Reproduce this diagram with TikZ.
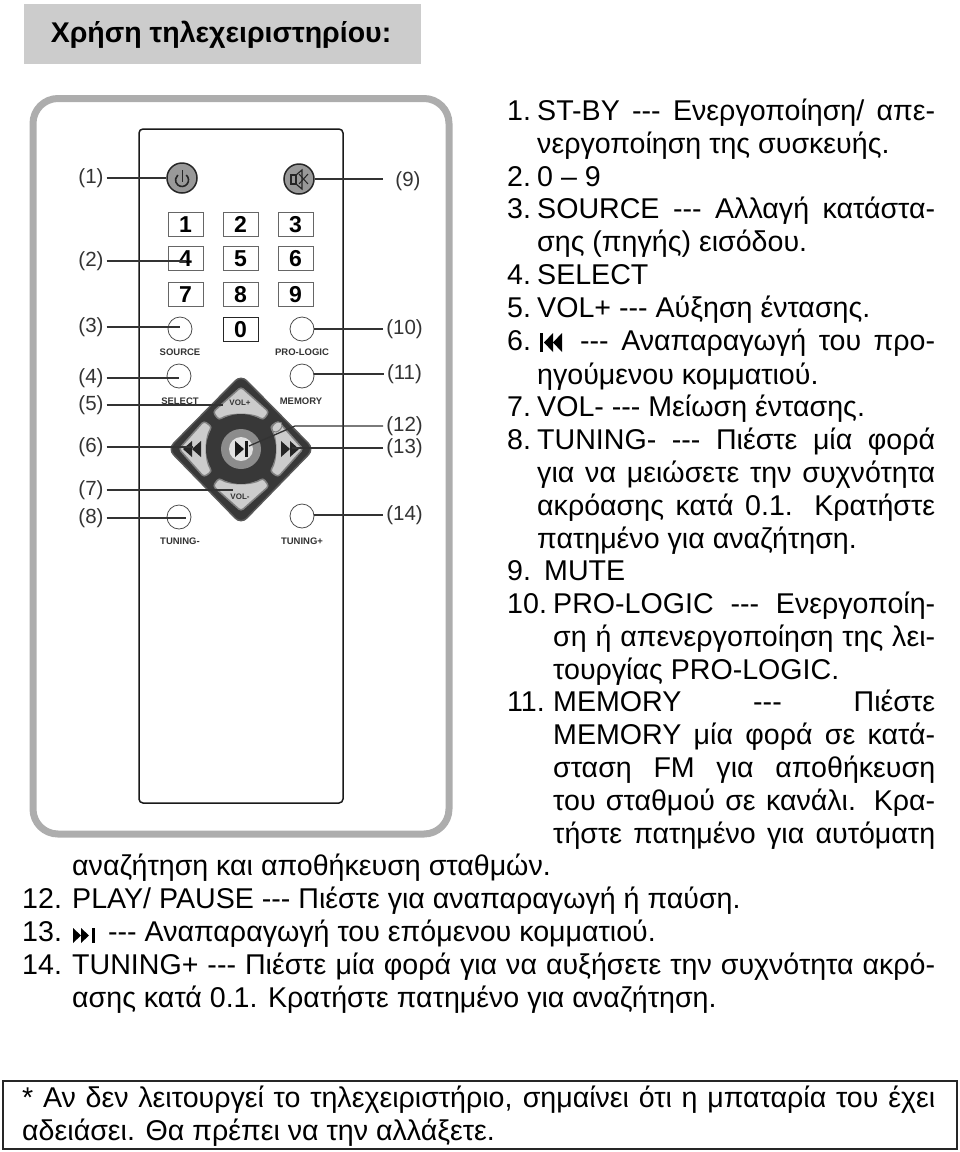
\documentclass[tikz,border=0pt]{standalone}
\usepackage{fontspec}
\usetikzlibrary{calc}
\newfontfamily\bodyfont{Liberation Sans}
\tikzset{
	bodytxt/.style={anchor=base west, inner sep=0pt, font=\bodyfont\fontsize{28.6}{33}\selectfont},
	calllbl/.style={inner sep=3pt, text=black!80, font=\bodyfont\fontsize{20.5}{22}\selectfont},
	callline/.style={line width=1.3pt, color=black!80},
	numkey/.style={draw=black!60, line width=1pt, minimum width=35pt, minimum height=24pt, inner sep=0pt, text height=16.5pt, text depth=0pt, font=\bodyfont\bfseries\fontsize{23}{23}\selectfont},
	roundbtn/.style={circle, draw=black!70, line width=0.8pt, minimum size=24pt, inner sep=0pt},
	topbtn/.style={circle, draw=black!85, fill=black!40, line width=1.5pt, minimum size=30pt, inner sep=0pt},
	btnlbl/.style={inner sep=0pt, text=black!80, font=\bodyfont\bfseries\fontsize{9.5}{10}\selectfont},
	padbtn/.style={draw=black!50, fill=black!20, line width=1.5pt, rounded corners=3pt}
}
\def\fline#1(#2,#3)#4{\node[bodytxt] (#1) at (#2,#3) {#4};}
\def\jline#1(#2,#3)[#4]#5{\node[bodytxt] (#1) at (#2,#3) {\makebox[#4][s]{#5}};}
\def\num#1#2{\makebox[#1][l]{#2}}

\begin{document}
\begin{tikzpicture}[x=1pt, y=-1pt]
	\useasboundingbox (0,0) rectangle (960,1152);
	%%%%% HEADING %%%%%

	\node[fill=black!20, minimum width=397pt, minimum height=60pt, inner sep=0pt] (headbox) at (222.5,34) {};
	\node[inner sep=0pt, font=\bodyfont\bfseries\fontsize{28.5}{30}\selectfont] (headtxt) at (221,35) {Χρήση τηλεχειριστηρίου:};

	%%%%% REMOTE %%%%%

	\draw[line width=7pt, color=black!32, rounded corners=25pt] (33,98.5) rectangle (449,834);
	\draw[line width=1.5pt, color=black!90, rounded corners=4pt] (139,129) rectangle (343,803);

	\node[topbtn] (btnpower) at (182,178) {};
	\node[topbtn] (btnmute) at (299,179) {};
	\draw[line width=1.6pt, color=black!85] (186.2,175) arc[start angle=-50, end angle=230, radius=6.5];
	\draw[line width=1.6pt, color=black!85] (182.5,170) -- (182.5,182);
	\draw[line width=1.2pt, color=black!85] (291,175) rectangle (296,184);
	\draw[line width=1.2pt, color=black!85] (296,175) -- (302,170) -- (302,189) -- (296,184);
	\draw[line width=1pt, color=black!85] (299,174) -- (308,184);
	\draw[line width=1pt, color=black!85] (299,184) -- (308,174);

	\node[numkey] (key1) at (185.5,224) {1};
	\node[numkey] (key2) at (240.5,224) {2};
	\node[numkey] (key3) at (295.5,224) {3};
	\node[numkey] (key4) at (185.5,258.5) {4};
	\node[numkey] (key5) at (240.5,258.5) {5};
	\node[numkey] (key6) at (295.5,258.5) {6};
	\node[numkey] (key7) at (185.5,294) {7};
	\node[numkey] (key8) at (240.5,294) {8};
	\node[numkey] (key9) at (295.5,294) {9};
	\node[numkey, draw=black!85] (key0) at (240.5,329.5) {0};

	\node[roundbtn] (btnsource) at (180,329) {};
	\node[roundbtn] (btnprologic) at (302,329) {};
	\node[roundbtn] (btnselect) at (179,376) {};
	\node[roundbtn] (btnmemory) at (302,376) {};
	\node[roundbtn] (btntuningm) at (179,517) {};
	\node[roundbtn] (btntuningp) at (302,516) {};

	\node[btnlbl] (lblsource) at (180,352) {SOURCE};
	\node[btnlbl] (lblprologic) at (302,352) {PRO-LOGIC};
	\node[btnlbl] (lblselect) at (180,401) {SELECT};
	\node[btnlbl] (lblmemory) at (301,401) {MEMORY};
	\node[btnlbl] (lbltuningm) at (180,541) {TUNING-};
	\node[btnlbl] (lbltuningp) at (302,541) {TUNING+};

	% direction pad
	\draw[fill=black!78, draw=black!65, line width=1.5pt, rounded corners=8pt] (241,375) -- (314,449) -- (241,524) -- (168,449) -- cycle;
	\foreach \ang in {0,90,180,270} {
		\begin{scope}[shift={(241,449)}, rotate=\ang]
			\draw[padbtn] (0,-62) -- (-28,-37) -- (-22,-29) .. controls (-12,-36) and (12,-36) .. (22,-29) -- (28,-37) -- cycle;
		\end{scope}
	}
	\draw[padbtn, line width=1pt, rotate around={45:(277,427)}] (277,427) ellipse (6pt and 4pt);
	\fill[black!78] (241,449) circle (35pt);
	\fill[black!45] (241,449) circle (20pt);
	\fill[black!12] (241,449) circle (12pt);
	\fill[black!90] (235,441) -- (244,449) -- (235,457) -- cycle;
	\fill[black!90] (245,441) rectangle (248,457);

	\fill[black!85] (201,441) -- (192,449) -- (201,457) -- cycle;
	\fill[black!85] (192,441) -- (183,449) -- (192,457) -- cycle;
	\fill[black!85] (281,441) -- (290,449) -- (281,457) -- cycle;
	\fill[black!85] (290,441) -- (299,449) -- (290,457) -- cycle;

	\node[btnlbl, font=\bodyfont\bfseries\fontsize{8}{8}\selectfont] (lblvolp) at (240,403) {VOL+};
	\node[btnlbl, font=\bodyfont\bfseries\fontsize{8}{8}\selectfont] (lblvolm) at (240,497) {VOL-};

	\coordinate (padvolp) at (223,405);
	\coordinate (padprev) at (193,447);
	\coordinate (padvolm) at (233,490);
	\coordinate (padplay) at (249,446);
	\coordinate (padbend) at (295,426);
	\coordinate (padnext) at (292,448);

	% callouts
	\node[calllbl] (call1) at (91,178) {(1)};
	\node[calllbl] (call2) at (91,261) {(2)};
	\node[calllbl] (call3) at (91,327) {(3)};
	\node[calllbl] (call4) at (91,378) {(4)};
	\node[calllbl] (call5) at (91,405) {(5)};
	\node[calllbl] (call6) at (91,447) {(6)};
	\node[calllbl] (call7) at (91,490) {(7)};
	\node[calllbl] (call8) at (91,518) {(8)};
	\node[calllbl] (call9) at (408,181) {(9)};
	\node[calllbl] (call10) at (404.5,329) {(10)};
	\node[calllbl] (call11) at (404.5,374) {(11)};
	\node[calllbl] (call12) at (404.5,426) {(12)};
	\node[calllbl] (call13) at (404.5,448) {(13)};
	\node[calllbl] (call14) at (404.5,515) {(14)};

	\draw[callline] (call1.east) -- (call1.east -| btnpower.west);
	\draw[callline] (call2.east) -- (call2.east -| key4.center);
	\draw[callline] (call3.east) -- (call3.east -| btnsource.center);
	\draw[callline] (call4.east) -- (call4.east -| btnselect.center);
	\draw[callline] (call5.east) -- (padvolp);
	\draw[callline] (call6.east) -- (padprev);
	\draw[callline] (call7.east) -- (padvolm);
	\draw[callline] (call8.east) -- ++(79,0);
	\draw[callline, shorten >=9pt] (btnmute.east) -- (btnmute.east -| call9.west);
	\draw[callline] (call10.west) -- (call10.west -| btnprologic.east);
	\draw[callline] (call11.west) -- (call11.west -| btnmemory.east);
	\draw[callline] (call12.west) -- (padbend) -- (padplay);
	\draw[callline] (call13.west) -- (padnext);
	\draw[callline] (call14.west) -- (call14.west -| btntuningp.east);

	%%%%% TEXT %%%%%

	\jline{t1}(507,120)[428pt]{\num{30pt}{1.}ST-BY --- Ενεργοποίηση/ απε-}
	\fline{t2}(537,153){νεργοποίηση της συσκευής.}
	\fline{t3}(507,186){\num{30pt}{2.}0 – 9}
	\jline{t4}(507,218)[428pt]{\num{30pt}{3.}SOURCE --- Αλλαγή κατάστα-}
	\fline{t5}(537,251){σης (πηγής) εισόδου.}
	\fline{t6}(507,284){\num{30pt}{4.}SELECT}
	\fline{t7}(507,317){\num{30pt}{5.}VOL+ --- Αύξηση έντασης.}
	\jline{t8}(507,350)[428pt]{\num{30pt}{6.}\hspace{43pt}--- Αναπαραγωγή του προ-}
	\fline{t9}(537,384){ηγούμενου κομματιού.}
	\fline{t10}(507,416){\num{30pt}{7.}VOL- --- Μείωση έντασης.}
	\jline{t11}(507,449)[428pt]{\num{30pt}{8.}TUNING- --- Πιέστε μία φορά}
	\jline{t12}(537,482)[398pt]{για να μειώσετε την συχνότητα}
	\jline{t13}(537,515)[398pt]{ακρόασης κατά 0.1. Κρατήστε}
	\fline{t14}(537,548){πατημένο για αναζήτηση.}
	\fline{t15}(507,580){\num{30pt}{9.}\hspace{7pt}MUTE}
	\jline{t16}(507,613)[428pt]{\num{46pt}{10.}PRO-LOGIC --- Ενεργοποίη-}
	\jline{t17}(553,646)[382pt]{ση ή απενεργοποίηση της λει-}
	\fline{t18}(553,679){τουργίας PRO-LOGIC.}
	\jline{t19}(507,711)[428pt]{\num{46pt}{11.}MEMORY --- Πιέστε}
	\jline{t20}(553,744)[382pt]{MEMORY μία φορά σε κατά-}
	\jline{t21}(553,777)[382pt]{σταση FM για αποθήκευση}
	\jline{t22}(553,810)[382pt]{του σταθμού σε κανάλι. Κρα-}
	\jline{t23}(553,843)[382pt]{τήστε πατημένο για αυτόματη}
	\fline{t24}(72,875){αναζήτηση και αποθήκευση σταθμών.}
	\fline{t25}(22,908){\num{50pt}{12.}PLAY/ PAUSE --- Πιέστε για αναπαραγωγή ή παύση.}
	\fline{t26}(22,941){\num{50pt}{13.}\hspace{36pt}--- Αναπαραγωγή του επόμενου κομματιού.}
	\jline{t27}(22,974)[913pt]{\num{50pt}{14.}TUNING+ --- Πιέστε μία φορά για να αυξήσετε την συχνότητα ακρό-}
	\fline{t28}(72,1007){ασης κατά 0.1. Κρατήστε πατημένο για αναζήτηση.}

	% track symbols in the list
	\fill (540,333) rectangle (542.5,352);
	\fill (553,333) -- (544,342.5) -- (553,352) -- cycle;
	\fill (562,333) -- (553,342.5) -- (562,352) -- cycle;
	\fill (73,928) -- (81,935.5) -- (73,943) -- cycle;
	\fill (81,928) -- (89,935.5) -- (81,943) -- cycle;
	\fill (92,928) rectangle (94.5,943);

	%%%%% NOTE %%%%%

	\draw[line width=2pt, color=black!85] (3,1081) rectangle (957,1149);
	\jline{t29}(22,1107)[913pt]{* Αν δεν λειτουργεί το τηλεχειριστήριο, σημαίνει ότι η μπαταρία του έχει}
	\fline{t30}(22,1140){αδειάσει. Θα πρέπει να την αλλάξετε.}
\end{tikzpicture}
\end{document}
